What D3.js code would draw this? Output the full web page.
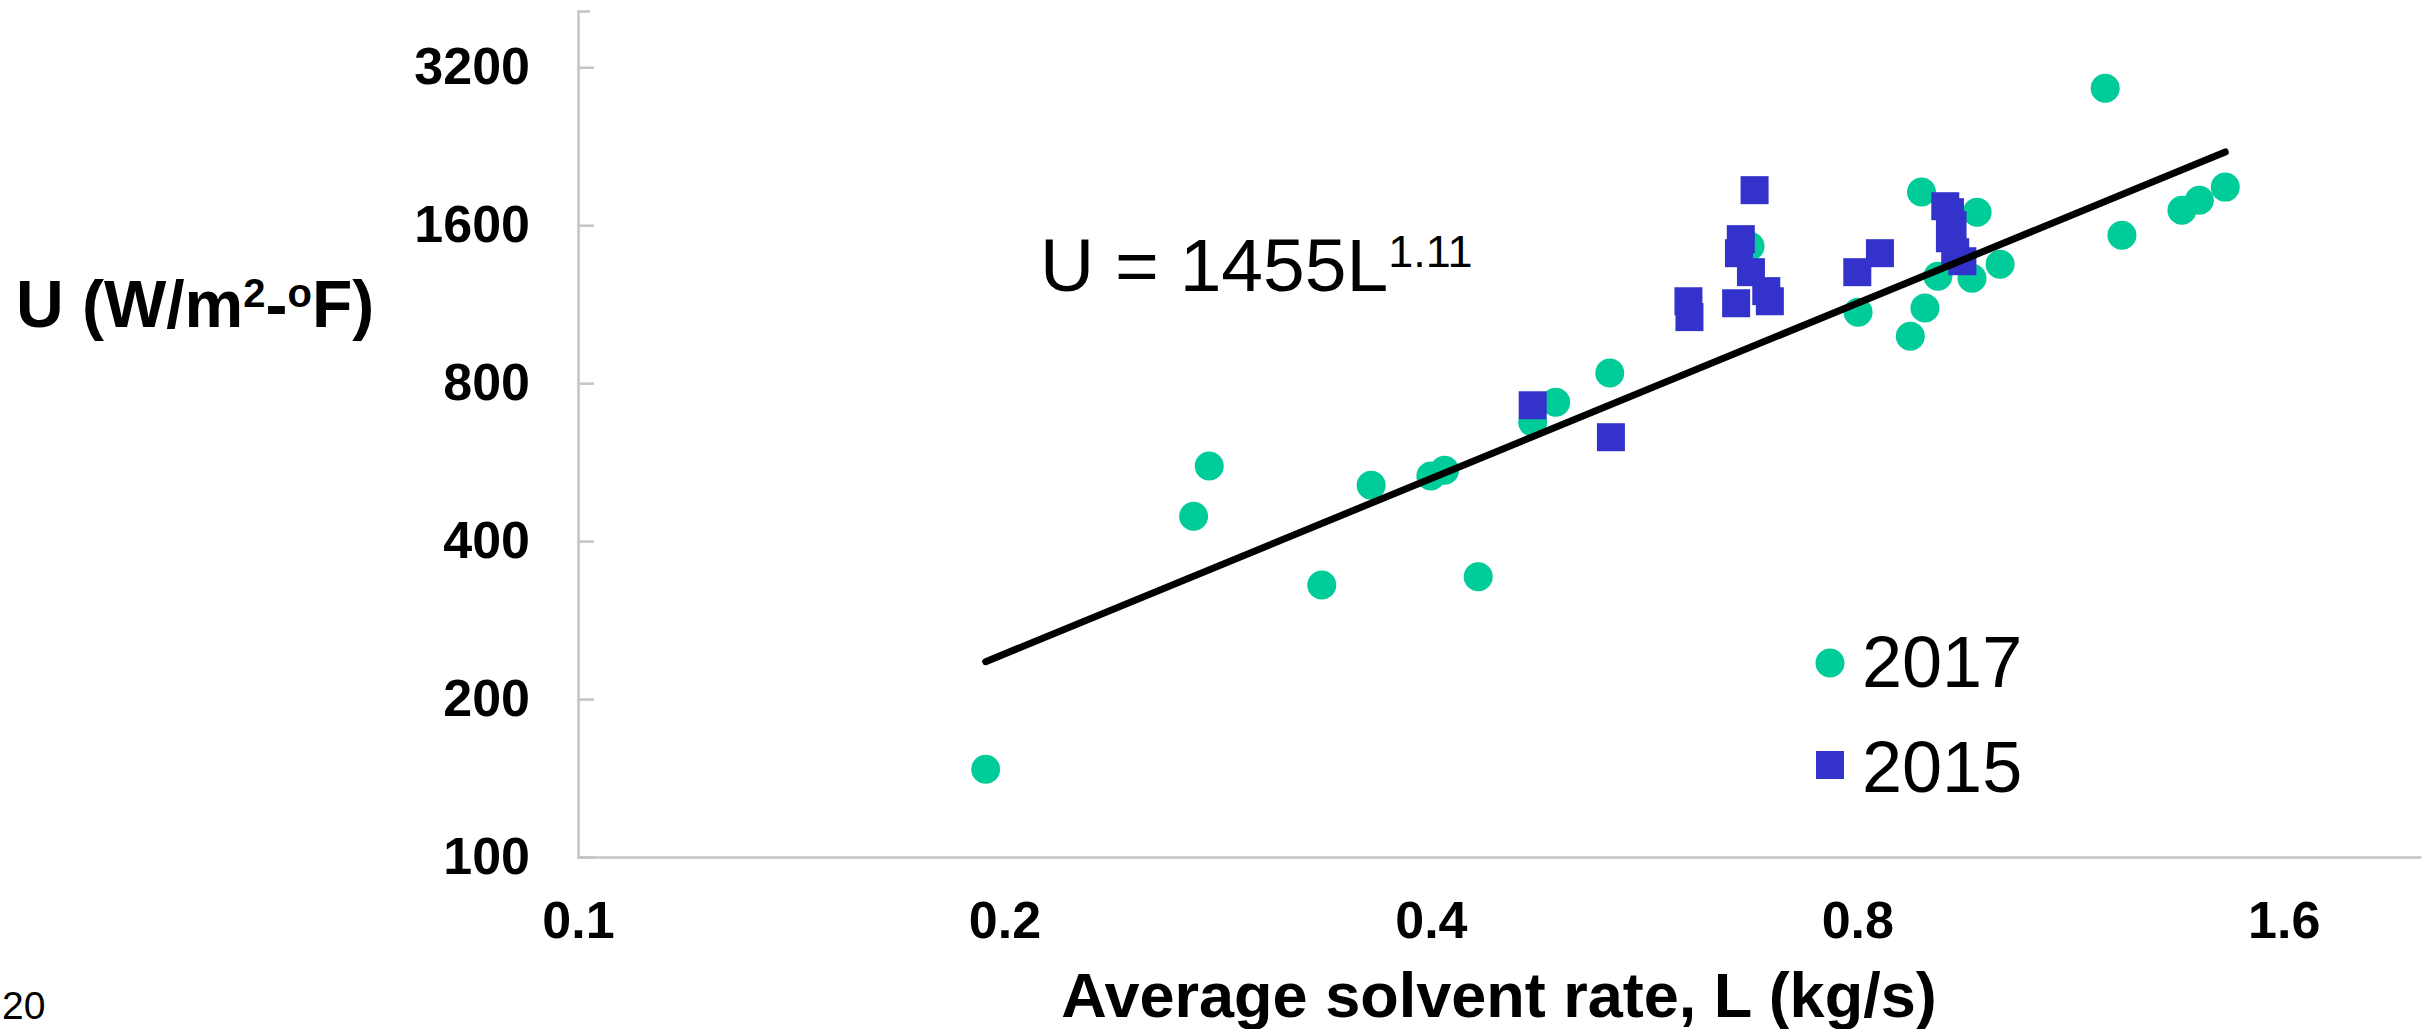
<!DOCTYPE html>
<html>
<head>
<meta charset="utf-8">
<script src="https://cdn.jsdelivr.net/npm/d3@7"></script>
<style>
  body { margin: 0; background: #fff; }
  svg { display: block; font-family: "Liberation Sans", Arial, sans-serif; }
</style>
</head>
<body>
<svg id="chart"></svg>
<script>
// 2017 campaign (green circles)
const L2017 = [0.194, 0.272, 0.279, 0.335, 0.363, 0.400, 0.409, 0.432, 0.472, 0.490, 0.535, 0.672, 0.801,
  0.872, 0.893, 0.888, 0.912, 0.964, 0.972, 1.009, 1.197, 1.230, 1.356, 1.395, 1.455];
const U2017 = [147, 446, 556, 330, 511, 532, 546, 342, 674, 736, 836, 1459, 1092,
  983, 1112, 1850, 1279, 1268, 1694, 1348, 2918, 1531, 1709, 1785, 1891];

// 2015 campaign (blue squares)
const L2015 = [0.472, 0.536, 0.608, 0.609, 0.677, 0.662, 0.660, 0.673, 0.657, 0.690, 0.694, 0.800, 0.830,
  0.923, 0.930, 0.934, 0.930, 0.938, 0.949];
const U2015 = [726, 631, 1146, 1069, 1866, 1505, 1415, 1302, 1136, 1198, 1146, 1302, 1415,
  1739, 1694, 1600, 1511, 1421, 1366];

// power fit U = a * L^b
const fitA = 1455;
const fitB = 1.11;

const xTicks = [0.1, 0.2, 0.4, 0.8, 1.6];
const yTicks = [100, 200, 400, 800, 1600, 3200];
const seriesNames = ['2017', '2015'];

const W = 2436, H = 1029;
const svg = d3.select('#chart').attr('width', W).attr('height', H);

const x = d3.scaleLog().base(2).domain([0.1, 2]).range([578, 2421]);
const y = d3.scaleLog().base(2).domain([100, 4096]).range([857, 11]);

const green = '#00CC99', blue = '#3333CC', axisGrey = '#C4C4C4';

// y axis (ticks point inward)
const yAxis = svg.append('g')
  .attr('transform', 'translate(578,0)')
  .call(d3.axisLeft(y).tickValues(yTicks).tickFormat(d3.format('d'))
    .tickSizeInner(-16).tickSizeOuter(-12).tickPadding(48));
yAxis.selectAll('path, line').attr('stroke', axisGrey).attr('stroke-width', 2.5);
yAxis.selectAll('text')
  .attr('fill', '#000')
  .style('font-size', '52px')
  .style('font-weight', 'bold')
  .style('font-family', '"Liberation Sans", Arial, sans-serif');

// x axis (line only, labels below)
const xAxis = svg.append('g')
  .attr('transform', 'translate(0,857)')
  .call(d3.axisBottom(x).tickValues(xTicks).tickFormat(d => d)
    .tickSize(0).tickPadding(44));
xAxis.select('.domain').attr('stroke', axisGrey).attr('stroke-width', 2.5);
xAxis.selectAll('text')
  .attr('fill', '#000')
  .style('font-size', '52px')
  .style('font-weight', 'bold')
  .style('font-family', '"Liberation Sans", Arial, sans-serif');

// points
const d2017 = L2017.map((l, i) => ({ l, u: U2017[i] }));
const d2015 = L2015.map((l, i) => ({ l, u: U2015[i] }));

svg.append('g').selectAll('circle')
  .data(d2017).join('circle')
  .attr('cx', d => x(d.l))
  .attr('cy', d => y(d.u))
  .attr('r', 14.5)
  .attr('fill', green);

svg.append('g').selectAll('rect')
  .data(d2015).join('rect')
  .attr('x', d => x(d.l) - 14)
  .attr('y', d => y(d.u) - 14)
  .attr('width', 28)
  .attr('height', 28)
  .attr('fill', blue);

// trend line over the data range
const allL = L2017.concat(L2015);
const [lMin, lMax] = d3.extent(allL);
const trend = [lMin, lMax].map(l => ({ l, u: fitA * Math.pow(l, fitB) }));
svg.append('path')
  .datum(trend)
  .attr('d', d3.line().x(d => x(d.l)).y(d => y(d.u)))
  .attr('stroke', '#000')
  .attr('stroke-width', 7)
  .attr('stroke-linecap', 'round')
  .attr('fill', 'none');

// equation
const eq = svg.append('text')
  .attr('x', 1040).attr('y', 291)
  .style('font-size', '75px');
eq.append('tspan').text('U = ' + fitA + 'L');
eq.append('tspan').attr('dy', -24).style('font-size', '45px').text(fitB.toFixed(2));

// legend
const legend = svg.append('g');
legend.append('circle').attr('cx', 1830).attr('cy', 663).attr('r', 14.5).attr('fill', green);
legend.append('rect').attr('x', 1816).attr('y', 751).attr('width', 28).attr('height', 28).attr('fill', blue);
legend.selectAll('text').data(seriesNames).join('text')
  .attr('x', 1862)
  .attr('y', (d, i) => 687 + i * 105)
  .style('font-size', '72px')
  .text(d => d);

// axis titles
const yTitle = svg.append('text')
  .attr('x', 16).attr('y', 327)
  .style('font-size', '66px')
  .style('font-weight', 'bold');
yTitle.append('tspan').text('U (W/m');
yTitle.append('tspan').attr('dy', -20).style('font-size', '40px').text('2');
yTitle.append('tspan').attr('dy', 20).text('-');
yTitle.append('tspan').attr('dy', -20).style('font-size', '40px').text('o');
yTitle.append('tspan').attr('dy', 20).text('F)');

svg.append('text')
  .attr('x', 1499).attr('y', 1017)
  .attr('text-anchor', 'middle')
  .style('font-size', '63px')
  .style('font-weight', 'bold')
  .text('Average solvent rate, L (kg/s)');

// slide number fragment at bottom-left
svg.append('text')
  .attr('x', 2).attr('y', 1019)
  .style('font-size', '39px')
  .text('20');
</script>
</body>
</html>
